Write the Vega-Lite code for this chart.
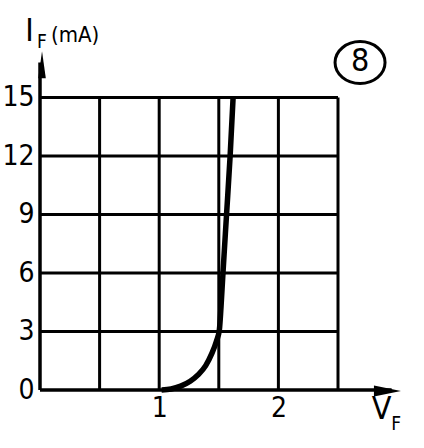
{
  "$schema": "https://vega.github.io/schema/vega-lite/v6.json",
  "autosize": "none",
  "width": 384,
  "height": 390,
  "padding": {"left": 40, "top": 0, "right": 0, "bottom": 58},
  "background": "white",
  "config": {"view": {"stroke": null}, "font": "Liberation Sans Narrow, DejaVu Sans Condensed, sans-serif"},
  "encoding": {
    "x": {"field": "v", "type": "quantitative", "scale": {"domain": [0, 3.2215], "nice": false, "zero": false},
      "axis": {"values": [1, 2], "domain": false, "ticks": false, "grid": false, "title": null, "labelFontSize": 28, "labelPadding": 4, "labelColor": "black", "labelFont": "Liberation Sans Narrow, DejaVu Sans Condensed, sans-serif"}},
    "y": {"field": "i", "type": "quantitative", "scale": {"domain": [0, 20], "nice": false, "zero": false},
      "axis": {"values": [0, 3, 6, 9, 12, 15], "domain": false, "ticks": false, "grid": false, "title": null, "labelFontSize": 28, "labelPadding": 6, "labelColor": "black", "labelFont": "Liberation Sans Narrow, DejaVu Sans Condensed, sans-serif"}}
  },
  "layer": [
    {
      "data": {"values": [
        {"v": 0, "v2": 2.5, "i": 3, "i2": 3},
        {"v": 0, "v2": 2.5, "i": 6, "i2": 6},
        {"v": 0, "v2": 2.5, "i": 9, "i2": 9},
        {"v": 0, "v2": 2.5, "i": 12, "i2": 12},
        {"v": 0, "v2": 2.5, "i": 15, "i2": 15},
        {"v": 0.5, "v2": 0.5, "i": 0, "i2": 15},
        {"v": 1, "v2": 1, "i": 0, "i2": 15},
        {"v": 1.5, "v2": 1.5, "i": 0, "i2": 15},
        {"v": 2, "v2": 2, "i": 0, "i2": 15},
        {"v": 2.5, "v2": 2.5, "i": 0, "i2": 15}
      ]},
      "mark": {"type": "rule", "color": "black", "strokeWidth": 3},
      "encoding": {"x2": {"field": "v2"}, "y2": {"field": "i2"}}
    },
    {
      "data": {"values": [
        {"v": 0, "v2": 2.95, "i": 0, "i2": 0},
        {"v": 0, "v2": 0, "i": 0, "i2": 16.8}
      ]},
      "mark": {"type": "rule", "color": "black", "strokeWidth": 3.5},
      "encoding": {"x2": {"field": "v2"}, "y2": {"field": "i2"}}
    },
    {
      "data": {"values": [{"v": 2.915, "i": -0.05}]},
      "mark": {"type": "point", "shape": "M-1,-0.4L1,0L-1,0.4Z", "filled": true, "color": "black", "opacity": 1, "size": 729}
    },
    {
      "data": {"values": [{"v": 0.017, "i": 16.68}]},
      "mark": {"type": "point", "shape": "M-0.28,1L0,-1L0.28,1Z", "filled": true, "color": "black", "opacity": 1, "size": 729}
    },
    {
      "data": {"values": [
        {"v": 1.02, "i": 0},
        {"v": 1.1, "i": 0.05},
        {"v": 1.18, "i": 0.2},
        {"v": 1.26, "i": 0.45},
        {"v": 1.33, "i": 0.8},
        {"v": 1.39, "i": 1.25},
        {"v": 1.44, "i": 1.85},
        {"v": 1.48, "i": 2.5},
        {"v": 1.505, "i": 3.1},
        {"v": 1.518, "i": 4.2},
        {"v": 1.535, "i": 6},
        {"v": 1.565, "i": 9},
        {"v": 1.595, "i": 12},
        {"v": 1.62, "i": 15}
      ]},
      "mark": {"type": "line", "color": "black", "strokeWidth": 5.5, "interpolate": "monotone"}
    },
    {
      "data": {"values": [{"v": 2.685, "i": 16.79}]},
      "mark": {"type": "point", "shape": "M-1,0A1,0.84,0,1,0,1,0A1,0.84,0,1,0,-1,0Z", "filled": false, "color": "black", "strokeWidth": 3, "opacity": 1, "size": 2500}
    },
    {
      "data": {"values": [
        {"v": 2.685, "i": 16.85, "t": "8"},
        {"v": -0.088, "i": 18.41, "t": "I"},
        {"v": 2.865, "i": -0.97, "t": "V"}
      ]},
      "mark": {"type": "text", "fontSize": 32, "align": "center", "baseline": "middle", "color": "black"},
      "encoding": {"text": {"field": "t"}}
    },
    {
      "data": {"values": [
        {"v": 0.017, "i": 17.87, "t": "F"},
        {"v": 2.987, "i": -1.72, "t": "F"}
      ]},
      "mark": {"type": "text", "fontSize": 19, "align": "center", "baseline": "middle", "color": "black"},
      "encoding": {"text": {"field": "t"}}
    },
    {
      "data": {"values": [{"v": 0.294, "i": 18.2, "t": "(mA)"}]},
      "mark": {"type": "text", "fontSize": 22, "align": "center", "baseline": "middle", "color": "black"},
      "encoding": {"text": {"field": "t"}}
    }
  ]
}
